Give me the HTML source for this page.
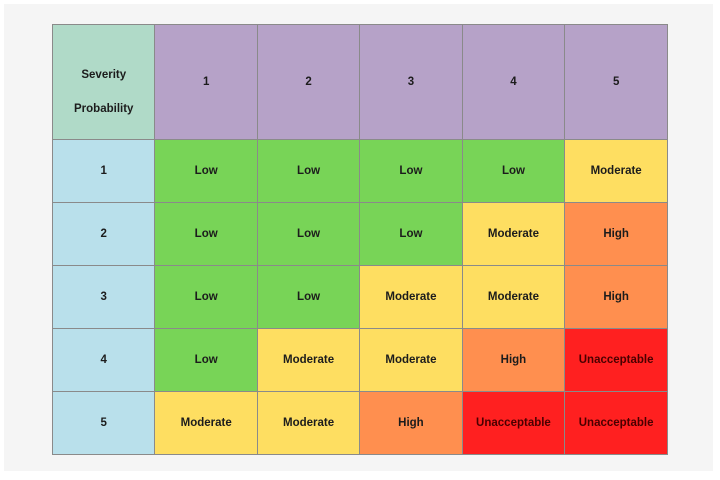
<!DOCTYPE html><html><head><style>
body{margin:0;width:720px;height:480px;background:#fff;position:relative;font-family:"Liberation Sans",sans-serif}
.bg{position:absolute;left:4px;top:4px;width:709px;height:467px;background:#f5f5f5}
table{position:absolute;left:52px;top:24px;border-collapse:collapse;width:616px;height:431px}
td{border:1px solid #8a8a8a;text-align:center;vertical-align:middle;font-weight:bold;font-size:11.5px;color:#1c1c1c;padding:0;width:102px}
tr.h td{height:114px;background:#b6a2c8}
tr td{height:62px}
tr.h td.c{background:#b0dac8;line-height:34px;padding-top:20px;height:94px}
td.p{background:#b9e0eb}
.L{background:#78d457}.M{background:#fede61}.H{background:#ff8f4f}.U{background:#ff2020;color:#4a0000}
</style></head><body><div class="bg"></div>
<table>
<tr class="h"><td class="c">Severity<br>Probability</td><td>1</td><td>2</td><td>3</td><td>4</td><td>5</td></tr>
<tr><td class="p">1</td><td class="L">Low</td><td class="L">Low</td><td class="L">Low</td><td class="L">Low</td><td class="M">Moderate</td></tr>
<tr><td class="p">2</td><td class="L">Low</td><td class="L">Low</td><td class="L">Low</td><td class="M">Moderate</td><td class="H">High</td></tr>
<tr><td class="p">3</td><td class="L">Low</td><td class="L">Low</td><td class="M">Moderate</td><td class="M">Moderate</td><td class="H">High</td></tr>
<tr><td class="p">4</td><td class="L">Low</td><td class="M">Moderate</td><td class="M">Moderate</td><td class="H">High</td><td class="U">Unacceptable</td></tr>
<tr><td class="p">5</td><td class="M">Moderate</td><td class="M">Moderate</td><td class="H">High</td><td class="U">Unacceptable</td><td class="U">Unacceptable</td></tr>
</table></body></html>
